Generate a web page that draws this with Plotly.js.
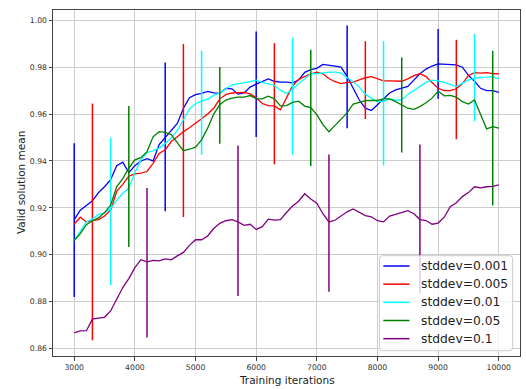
<!DOCTYPE html>
<html>
<head>
<meta charset="utf-8">
<script src="https://cdn.plot.ly/plotly-3.0.1.min.js"></script>
<style>html,body{margin:0;padding:0;background:#fff;}#chart{width:526px;height:389px;}</style>
</head>
<body>
<div id="chart"></div>
<script>
var iterations = [3000,3100,3200,3300,3400,3500,3600,3700,3800,3900,4000,4100,4200,4300,4400,4500,4600,4700,4800,4900,5000,5100,5200,5300,5400,5500,5600,5700,5800,5900,6000,6100,6200,6300,6400,6500,6600,6700,6800,6900,7000,7100,7200,7300,7400,7500,7600,7700,7800,7900,8000,8100,8200,8300,8400,8500,8600,8700,8800,8900,9000,9100,9200,9300,9400,9500,9600,9700,9800,9900,10000];

var seriesNames = ["stddev=0.001","stddev=0.005","stddev=0.01","stddev=0.05","stddev=0.1"];
var seriesColors = ["blue","red","cyan","green","purple"];

var blueMean = [0.9150,0.9190,0.9210,0.9230,0.9265,0.9290,0.9320,0.9380,0.9395,0.9350,0.9380,0.9400,0.9410,0.9400,0.9470,0.9500,0.9530,0.9560,0.9625,0.9670,0.9683,0.9688,0.9697,0.9690,0.9688,0.9710,0.9708,0.9685,0.9690,0.9715,0.9728,0.9738,0.9750,0.9740,0.9736,0.9736,0.9733,0.9745,0.9778,0.9790,0.9795,0.9812,0.9810,0.9805,0.9800,0.9760,0.9710,0.9660,0.9625,0.9615,0.9640,0.9665,0.9690,0.9703,0.9710,0.9718,0.9745,0.9772,0.9792,0.9805,0.9814,0.9812,0.9811,0.9810,0.9800,0.9765,0.9740,0.9710,0.9700,0.9700,0.9693];
var redMean = [0.9131,0.9160,0.9140,0.9146,0.9150,0.9165,0.9190,0.9270,0.9300,0.9335,0.9345,0.9348,0.9355,0.9390,0.9432,0.9448,0.9483,0.9503,0.9525,0.9542,0.9560,0.9580,0.9600,0.9625,0.9665,0.9683,0.9690,0.9693,0.9693,0.9686,0.9670,0.9645,0.9636,0.9635,0.9618,0.9670,0.9720,0.9748,0.9760,0.9772,0.9779,0.9772,0.9752,0.9738,0.9730,0.9735,0.9736,0.9745,0.9755,0.9760,0.9752,0.9742,0.9742,0.9740,0.9740,0.9750,0.9764,0.9772,0.9760,0.9735,0.9710,0.9700,0.9700,0.9708,0.9730,0.9765,0.9777,0.9775,0.9777,0.9773,0.9772];
var cyanMean = [0.9060,0.9100,0.9140,0.9152,0.9172,0.9178,0.9198,0.9232,0.9262,0.9285,0.9350,0.9405,0.9435,0.9444,0.9455,0.9475,0.9498,0.9530,0.9575,0.9622,0.9644,0.9656,0.9664,0.9680,0.9690,0.9708,0.9725,0.9729,0.9732,0.9738,0.9745,0.9735,0.9729,0.9722,0.9702,0.9688,0.9705,0.9730,0.9750,0.9772,0.9772,0.9776,0.9779,0.9779,0.9775,0.9755,0.9738,0.9715,0.9685,0.9668,0.9652,0.9655,0.9665,0.9660,0.9660,0.9684,0.9700,0.9718,0.9735,0.9745,0.9742,0.9735,0.9725,0.9717,0.9732,0.9746,0.9752,0.9757,0.9758,0.9760,0.9750];
var greenMean = [0.9060,0.9090,0.9128,0.9145,0.9157,0.9180,0.9212,0.9290,0.9325,0.9370,0.9405,0.9414,0.9440,0.9503,0.9525,0.9522,0.9512,0.9480,0.9444,0.9450,0.9459,0.9490,0.9540,0.9600,0.9640,0.9660,0.9668,0.9672,0.9672,0.9679,0.9666,0.9665,0.9676,0.9665,0.9635,0.9636,0.9650,0.9655,0.9634,0.9628,0.9598,0.9555,0.9525,0.9552,0.9580,0.9605,0.9643,0.9651,0.9657,0.9658,0.9658,0.9665,0.9665,0.9653,0.9640,0.9625,0.9620,0.9632,0.9648,0.9668,0.9698,0.9678,0.9680,0.9672,0.9653,0.9643,0.9660,0.9600,0.9537,0.9546,0.9540];
var purpleMean = [0.8667,0.8675,0.8676,0.8725,0.8730,0.8733,0.8760,0.8810,0.8860,0.8898,0.8945,0.8979,0.8970,0.8976,0.8974,0.8982,0.8978,0.8995,0.9010,0.9040,0.9064,0.9064,0.9080,0.9112,0.9134,0.9145,0.9150,0.9140,0.9125,0.9130,0.9108,0.9120,0.9152,0.9148,0.9150,0.9180,0.9208,0.9228,0.9260,0.9238,0.9220,0.9175,0.9140,0.9147,0.9165,0.9183,0.9195,0.9182,0.9167,0.9162,0.9145,0.9140,0.9165,0.9172,0.9180,0.9188,0.9175,0.9150,0.9146,0.9130,0.9135,0.9160,0.9205,0.9222,0.9248,0.9265,0.9290,0.9285,0.9290,0.9292,0.9298];

var blueErrX = [3000,4500,6000,7500,9000];
var blueErrMid = [0.9148,0.9503,0.9727,0.9759,0.9814];
var blueErrHalf = [0.0328,0.0317,0.0225,0.0219,0.0149];
var redErrX = [3300,4800,6300,7800,9300];
var redErrMid = [0.9140,0.9530,0.9644,0.9745,0.9705];
var redErrHalf = [0.0505,0.0369,0.0258,0.0166,0.0212];
var cyanErrX = [3600,5100,6600,8100,9600];
var cyanErrMid = [0.9185,0.9649,0.9676,0.9646,0.9756];
var cyanErrHalf = [0.0315,0.0222,0.0250,0.0265,0.0186];
var greenErrX = [3900,5400,6900,8400,9900];
var greenErrMid = [0.9334,0.9637,0.9626,0.9639,0.9540];
var greenErrHalf = [0.0301,0.0164,0.0248,0.0203,0.0330];
var purpleErrX = [4200,5700,7200,8700];
var purpleErrMid = [0.8966,0.9145,0.9135,0.9152];
var purpleErrHalf = [0.0319,0.0321,0.0293,0.0318];

var xTickVals = [3000,4000,5000,6000,7000,8000,9000,10000];
var yTickVals = [0.86,0.88,0.90,0.92,0.94,0.96,0.98,1.00];
var xTitle = "Training iterations";
var yTitle = "Valid solution mean";

var means = [blueMean, redMean, cyanMean, greenMean, purpleMean];
var errXs = [blueErrX, redErrX, cyanErrX, greenErrX, purpleErrX];
var errMids = [blueErrMid, redErrMid, cyanErrMid, greenErrMid, purpleErrMid];
var errHalfs = [blueErrHalf, redErrHalf, cyanErrHalf, greenErrHalf, purpleErrHalf];

var FONT = "DejaVu Sans, Liberation Sans, sans-serif";
var W = 526, H = 389;
var M = {l: 53, r: 6, t: 10, b: 33};
var PW = W - M.l - M.r, PH = H - M.t - M.b;
function px2x(p) { return (p - M.l) / PW; }
function px2y(p) { return (H - M.b - p) / PH; }

var traces = [];
for (var i = 0; i < means.length; i++) {
  traces.push({
    type: "scatter", mode: "lines", name: seriesNames[i], showlegend: false,
    x: iterations, y: means[i],
    line: {color: seriesColors[i], width: 1.3},
    hoverinfo: "skip"
  });
  traces.push({
    type: "scatter", mode: "markers", showlegend: false,
    x: errXs[i], y: errMids[i],
    marker: {size: 1, opacity: 0, color: seriesColors[i]},
    error_y: {type: "data", array: errHalfs[i], visible: true, width: 0, thickness: 1.5, color: seriesColors[i]},
    hoverinfo: "skip"
  });
}

// legend box (matplotlib style, rounded corners)
var bx0 = px2x(379.5), bx1 = px2x(512.7), by0 = px2y(350.7), by1 = px2y(255.7);
var rx = 3 / PW, ry = 3 / PH;
var boxPath = "M " + (bx0 + rx) + "," + by1 +
  " L " + (bx1 - rx) + "," + by1 + " Q " + bx1 + "," + by1 + " " + bx1 + "," + (by1 - ry) +
  " L " + bx1 + "," + (by0 + ry) + " Q " + bx1 + "," + by0 + " " + (bx1 - rx) + "," + by0 +
  " L " + (bx0 + rx) + "," + by0 + " Q " + bx0 + "," + by0 + " " + bx0 + "," + (by0 + ry) +
  " L " + bx0 + "," + (by1 - ry) + " Q " + bx0 + "," + by1 + " " + (bx0 + rx) + "," + by1 + " Z";
var shapes = [{
  type: "path", xref: "paper", yref: "paper", path: boxPath, layer: "above",
  fillcolor: "rgba(255,255,255,0.8)", line: {color: "#cccccc", width: 1}
}];
var annotations = [
  {text: xTitle, xref: "paper", yref: "paper", x: 0.5, y: 0, xanchor: "center", yanchor: "middle",
   yshift: -23.5, showarrow: false, font: {family: FONT, size: 10.5, color: "#222222"}},
  {text: yTitle, xref: "paper", yref: "paper", x: 0, y: 0.5, xanchor: "center", yanchor: "middle",
   xshift: -32, textangle: -90, showarrow: false, font: {family: FONT, size: 10.5, color: "#222222"}}
];
for (var k = 0; k < seriesNames.length; k++) {
  var cy = 266 + k * 18.17;
  shapes.push({
    type: "line", xref: "paper", yref: "paper", layer: "above",
    x0: px2x(383.3), x1: px2x(409.5), y0: px2y(cy), y1: px2y(cy),
    line: {color: seriesColors[k], width: 1.5}
  });
  annotations.push({
    text: seriesNames[k], xref: "paper", yref: "paper", x: px2x(418.5), y: px2y(cy),
    xanchor: "left", yanchor: "middle", showarrow: false,
    font: {family: FONT, size: 12.3, color: "#222222"}
  });
}

var layout = {
  width: W, height: H,
  margin: {l: M.l, r: M.r, t: M.t, b: M.b, pad: 0},
  paper_bgcolor: "#ffffff", plot_bgcolor: "#ffffff",
  font: {family: FONT, color: "#333333", size: 7.7},
  showlegend: false,
  xaxis: {
    range: [2650, 10350], tickvals: xTickVals, tickformat: "d",
    showgrid: true, gridcolor: "#cccccc", gridwidth: 1,
    showline: true, mirror: true, linecolor: "#444444", linewidth: 1,
    ticks: "outside", ticklen: 3.5, tickcolor: "#444444", tickwidth: 1,
    tickfont: {family: FONT, size: 7.7, color: "#333333"},
    zeroline: false
  },
  yaxis: {
    range: [0.8568, 1.0044], tickvals: yTickVals, tickformat: ".2f",
    showgrid: true, gridcolor: "#cccccc", gridwidth: 1,
    showline: true, mirror: true, linecolor: "#444444", linewidth: 1,
    ticks: "outside", ticklen: 3.5, tickcolor: "#444444", tickwidth: 1,
    tickfont: {family: FONT, size: 7.7, color: "#333333"},
    zeroline: false
  },
  shapes: shapes,
  annotations: annotations
};

Plotly.newPlot("chart", traces, layout, {staticPlot: true, displayModeBar: false});
</script>
</body>
</html>
